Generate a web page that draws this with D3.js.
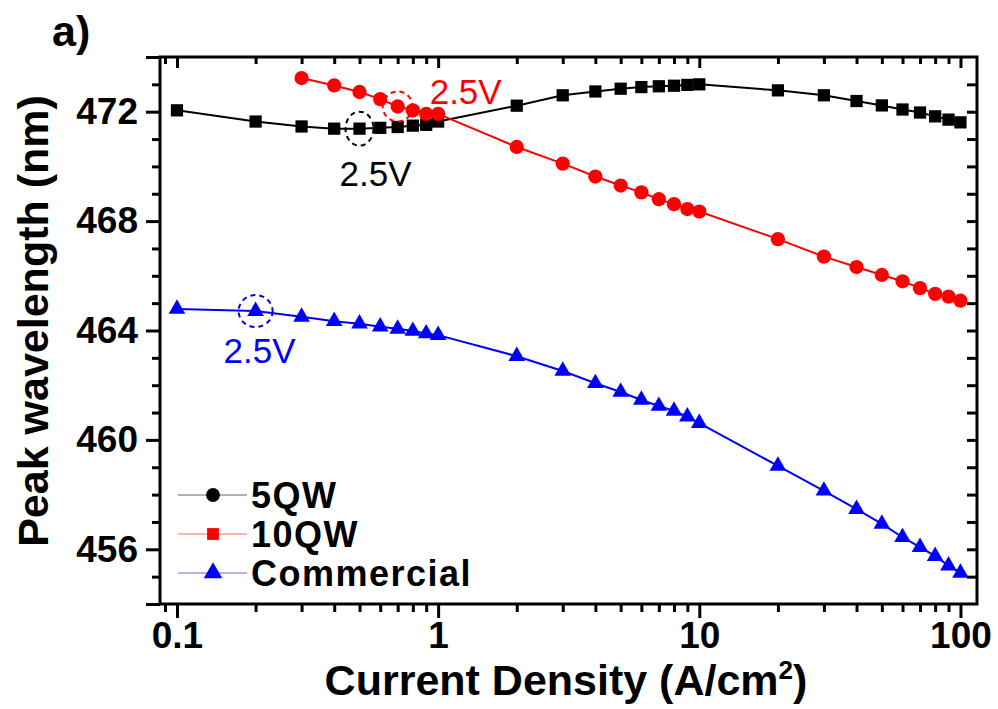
<!DOCTYPE html>
<html>
<head>
<meta charset="utf-8">
<script src="https://cdn.jsdelivr.net/npm/d3@7/dist/d3.min.js"></script>
<style>
  html, body { margin: 0; padding: 0; background: #fff; }
  svg { display: block; font-family: "Liberation Sans", Arial, Helvetica, sans-serif; }
</style>
</head>
<body>
<svg id="chart" width="998" height="709"></svg>
<script>
// Current density (A/cm^2) sampling points
const currentDensity = [0.1, 0.2, 0.3, 0.4, 0.5, 0.6, 0.7, 0.8, 0.9, 1,
  2, 3, 4, 5, 6, 7, 8, 9, 10, 20, 30, 40, 50, 60, 70, 80, 90, 100];
const currentDensity10QW = [0.3, 0.4, 0.5, 0.6, 0.7, 0.8, 0.9, 1,
  2, 3, 4, 5, 6, 7, 8, 9, 10, 20, 30, 40, 50, 60, 70, 80, 90, 100];

// Peak wavelength (nm) for each device
const wl5QW = [472.05, 471.64, 471.46, 471.38, 471.38, 471.41, 471.44, 471.49, 471.52, 471.64,
  472.22, 472.60, 472.74, 472.84, 472.90, 472.93, 472.95, 472.98, 473.00,
  472.78, 472.60, 472.39, 472.23, 472.08, 471.97, 471.83, 471.71, 471.61];
const wl10QW = [473.23, 472.96, 472.72, 472.46, 472.19, 472.05, 471.92, 471.92,
  470.71, 470.10, 469.63, 469.30, 469.05, 468.80, 468.62, 468.44, 468.35,
  467.34, 466.70, 466.32, 466.03, 465.80, 465.55, 465.34, 465.24, 465.09];
const wlCommercial = [464.79, 464.71, 464.50, 464.34, 464.25, 464.14, 464.06, 463.98, 463.89, 463.83,
  463.06, 462.52, 462.07, 461.75, 461.46, 461.24, 461.06, 460.85, 460.61,
  459.05, 458.14, 457.47, 456.93, 456.44, 456.08, 455.75, 455.40, 455.14];

// Axis ticks
const xMajorTicks = [0.1, 1, 10, 100];
const xMinorTicks = [0.09, 0.2, 0.3, 0.4, 0.5, 0.6, 0.7, 0.8, 0.9,
  2, 3, 4, 5, 6, 7, 8, 9, 20, 30, 40, 50, 60, 70, 80, 90];
const yMajorTicks = [456, 460, 464, 468, 472];
const yEdgeTicks = [454, 474];
const yMinorTicks = [455, 457, 458, 459, 461, 462, 463, 465, 466, 467, 469, 470, 471, 473];

// Legend entries and "2.5V" operating-point annotations
const legendLabels = ["5QW", "10QW", "Commercial"];
const annotationText = ["2.5V", "2.5V", "2.5V"];
const annotationX = [0.5, 0.7, 0.2];
const annotationY = [471.38, 472.19, 464.71];

const svg = d3.select("#chart");
const L = 160, R = 977, T = 57, B = 604;

const x = d3.scaleLog().domain([0.0861, 115.7]).range([L, R]);
const y = d3.scaleLinear().domain([454, 474]).range([B, T]);

const FONT_TICK = 37;
const tickStroke = 3;

function styleAxis(g) {
  g.select(".domain").remove();
  g.selectAll(".tick line").attr("stroke", "#000").attr("stroke-width", tickStroke);
  g.selectAll(".tick text")
    .attr("fill", "#000")
    .attr("font-size", FONT_TICK)
    .attr("font-weight", "bold")
    .attr("font-family", "'Liberation Sans', Arial, sans-serif");
}

// Bottom axis (outward ticks)
svg.append("g").attr("transform", `translate(0,${B})`)
  .call(d3.axisBottom(x).tickValues(xMajorTicks).tickSize(14).tickSizeOuter(0).tickPadding(4)
    .tickFormat(d => String(d)))
  .call(styleAxis);
svg.append("g").attr("transform", `translate(0,${B})`)
  .call(d3.axisBottom(x).tickValues(xMinorTicks).tickSize(8).tickSizeOuter(0).tickFormat(""))
  .call(styleAxis);

// Top axis (inward ticks)
svg.append("g").attr("transform", `translate(0,${T})`)
  .call(d3.axisBottom(x).tickValues(xMajorTicks).tickSize(11).tickSizeOuter(0).tickFormat(""))
  .call(styleAxis);
svg.append("g").attr("transform", `translate(0,${T})`)
  .call(d3.axisBottom(x).tickValues(xMinorTicks).tickSize(7).tickSizeOuter(0).tickFormat(""))
  .call(styleAxis);

// Left axis (outward ticks)
svg.append("g").attr("transform", `translate(${L},0)`)
  .call(d3.axisLeft(y).tickValues(yMajorTicks).tickSize(14).tickSizeOuter(0).tickPadding(8)
    .tickFormat(d3.format("d")))
  .call(styleAxis);
svg.append("g").attr("transform", `translate(${L},0)`)
  .call(d3.axisLeft(y).tickValues(yEdgeTicks).tickSize(14).tickSizeOuter(0).tickFormat(""))
  .call(styleAxis);
svg.append("g").attr("transform", `translate(${L},0)`)
  .call(d3.axisLeft(y).tickValues(yMinorTicks).tickSize(8).tickSizeOuter(0).tickFormat(""))
  .call(styleAxis);

// Right axis (inward ticks)
svg.append("g").attr("transform", `translate(${R},0)`)
  .call(d3.axisLeft(y).tickValues(yMajorTicks.concat(yMinorTicks)).tickSize(10).tickSizeOuter(0).tickFormat(""))
  .call(styleAxis);

// Plot frame
svg.append("rect")
  .attr("x", L).attr("y", T).attr("width", R - L).attr("height", B - T)
  .attr("fill", "none").attr("stroke", "#000").attr("stroke-width", 3);

// Axis titles
svg.append("text")
  .attr("x", 566).attr("y", 695)
  .attr("text-anchor", "middle")
  .attr("font-size", 43).attr("font-weight", "bold")
  .html('Current Density (A/cm<tspan dy="-16" font-size="26">2</tspan><tspan dy="16">)</tspan>');

svg.append("text")
  .attr("transform", "translate(48,321) rotate(-90)")
  .attr("text-anchor", "middle")
  .attr("font-size", 43).attr("font-weight", "bold")
  .text("Peak wavelength (nm)");

// Panel label
svg.append("text")
  .attr("x", 52).attr("y", 46)
  .attr("font-size", 43).attr("font-weight", "bold")
  .text("a)");

// Series
const series = [
  { xs: currentDensity, ys: wl5QW, color: "#000000", symbol: d3.symbolSquare, size: 150 },
  { xs: currentDensity10QW, ys: wl10QW, color: "#ff0000", symbol: d3.symbolCircle, size: 160 },
  { xs: currentDensity, ys: wlCommercial, color: "#0000ff", symbol: d3.symbolTriangle, size: 120 }
];

const line = d3.line().x(d => x(d[0])).y(d => y(d[1]));

series.forEach(s => {
  const pts = s.xs.map((v, i) => [v, s.ys[i]]);
  const g = svg.append("g");
  g.append("path")
    .attr("d", line(pts))
    .attr("fill", "none")
    .attr("stroke", s.color)
    .attr("stroke-width", 2);
  g.selectAll("path.marker")
    .data(pts)
    .join("path")
    .attr("class", "marker")
    .attr("transform", d => `translate(${x(d[0])},${y(d[1])})`)
    .attr("d", d3.symbol().type(s.symbol).size(s.size))
    .attr("fill", s.color);
});

// Dashed rings marking the 2.5 V operating point of each device
const annColors = ["#000000", "#ff0000", "#0000ff"];
const ringRx = [14, 15, 17];
const ringRy = [17, 15, 16];
const textDx = [-20, 32, -32];
const textDy = [57, -3, 52];
annotationX.forEach((ax, i) => {
  const cx = x(ax), cy = y(annotationY[i]);
  svg.append("ellipse")
    .attr("cx", cx).attr("cy", cy)
    .attr("rx", ringRx[i]).attr("ry", ringRy[i])
    .attr("fill", "none")
    .attr("stroke", annColors[i])
    .attr("stroke-width", 2)
    .attr("stroke-dasharray", "5,4");
  svg.append("text")
    .attr("x", cx + textDx[i]).attr("y", cy + textDy[i])
    .attr("font-size", 35)
    .attr("fill", annColors[i])
    .text(annotationText[i]);
});

// Legend
const legendSymbols = [d3.symbolCircle, d3.symbolSquare, d3.symbolTriangle];
const legendSizes = [150, 140, 150];
const legend = svg.append("g");
legendLabels.forEach((lab, i) => {
  const ly = 495 + i * 39;
  legend.append("line")
    .attr("x1", 178).attr("x2", 247)
    .attr("y1", ly).attr("y2", ly)
    .attr("stroke", annColors[i])
    .attr("stroke-width", 1.2)
    .attr("stroke-opacity", 0.6);
  legend.append("path")
    .attr("transform", `translate(213,${ly})`)
    .attr("d", d3.symbol().type(legendSymbols[i]).size(legendSizes[i]))
    .attr("fill", annColors[i]);
  legend.append("text")
    .attr("x", 251).attr("y", ly + 13)
    .attr("font-size", 36).attr("font-weight", "bold")
    .attr("letter-spacing", 1.5)
    .text(lab);
});
</script>
</body>
</html>
